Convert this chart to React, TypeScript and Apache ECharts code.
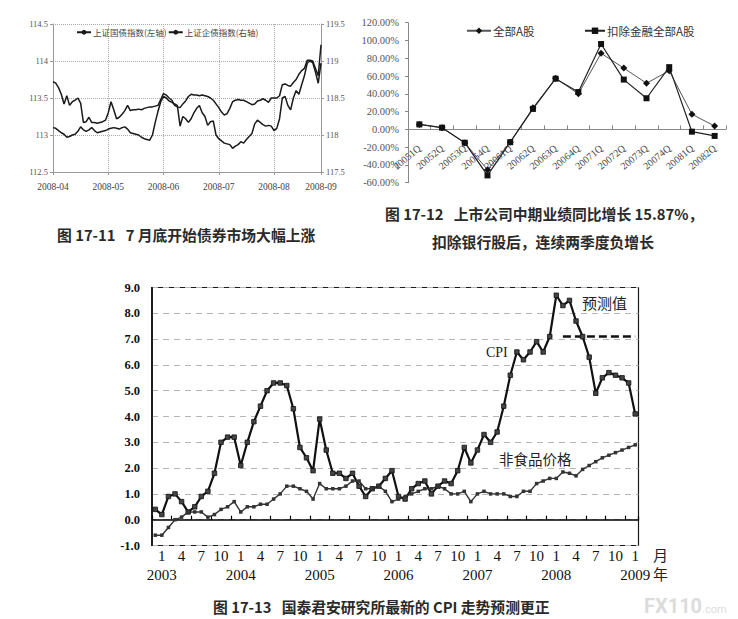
import React, { useEffect, useRef } from 'react';
import * as echarts from 'echarts';

// ---------- Figure 17-11: bond indices ----------
const bondTickIndex = [0, 20, 40, 60, 80, 97];
const bondTickLabels = ['2008-04', '2008-05', '2008-06', '2008-07', '2008-08', '2008-09'];
const treasuryIndex = [
  113.72, 113.70, 113.64, 113.55, 113.42, 113.53, 113.40, 113.45, 113.47, 113.50,
  113.43, 113.17, 113.18, 113.24, 113.17, 113.17, 113.16, 113.17, 113.18, 113.20,
  113.30, 113.45, 113.34, 113.22, 113.24, 113.28, 113.33, 113.40, 113.33, 113.34,
  113.34, 113.35, 113.34, 113.36, 113.37, 113.38, 113.38, 113.39, 113.40, 113.48,
  113.56, 113.54, 113.50, 113.47, 113.40, 113.38, 113.37, 113.42, 113.46, 113.52,
  113.55, 113.54, 113.54, 113.53, 113.54, 113.53, 113.52, 113.50, 113.47, 113.42,
  113.37, 113.31, 113.27, 113.29, 113.36, 113.45, 113.47, 113.48, 113.47, 113.47,
  113.45, 113.43, 113.41, 113.42, 113.46, 113.47, 113.49, 113.47, 113.44, 113.50,
  113.50, 113.50, 113.53, 113.68, 113.69, 113.67, 113.66, 113.71, 113.75, 113.82,
  113.87, 113.90, 114.01, 114.01, 114.00, 113.90, 113.80, 114.22,
];
const corporateIndex = [
  118.10, 118.09, 118.06, 118.03, 118.01, 117.97, 117.98, 118.00, 118.01, 118.05,
  118.11, 118.07, 118.05, 118.07, 118.10, 118.06, 118.03, 118.04, 118.05, 118.06,
  118.08, 118.09, 118.10, 118.09, 118.08, 118.10, 118.11, 118.08, 118.03, 118.02,
  118.01, 118.00, 117.97, 117.95, 117.94, 117.93, 118.00, 118.17, 118.32, 118.45,
  118.52, 118.50, 118.46, 118.44, 118.42, 118.40, 118.12, 118.25, 118.22, 118.17,
  118.22, 118.30, 118.36, 118.40, 118.30, 118.25, 118.13, 118.18, 118.19, 118.00,
  117.95, 117.92, 117.89, 117.88, 117.87, 117.82, 117.85, 117.87, 117.91, 117.89,
  117.94, 117.98, 118.02, 118.15, 118.20, 118.17, 118.14, 118.12, 118.13, 118.12,
  118.06, 118.09, 118.22, 118.50, 118.52, 118.40, 118.34, 118.50, 118.60, 118.55,
  118.68, 118.80, 118.97, 119.00, 118.98, 118.85, 118.70, 118.97,
];
const bondDays = treasuryIndex.map((_, i) => String(i));

// ---------- Figure 17-12: interim earnings growth ----------
const quarters = [
  '20051Q', '20052Q', '20053Q', '20054Q', '20061Q', '20062Q', '20063Q',
  '20064Q', '20071Q', '20072Q', '20073Q', '20074Q', '20081Q', '20082Q',
];
const allAShares = [5.6, 1.9, -15.2, -45.5, -14.4, 24.2, 57.4, 40.0, 85.6, 68.9, 51.9, 65.9, 17.0, 3.7];
const exFinancial = [5.6, 1.9, -15.0, -51.8, -14.4, 23.0, 57.0, 42.0, 96.0, 56.0, 35.0, 70.0, -2.6, -7.4];

// ---------- Figure 17-13: CPI ----------
const cpiYears = [2002, 2003, 2004, 2005, 2006, 2007, 2008, 2009];
const cpi = [
  0.4, 0.2, 0.9, 1.0, 0.7, 0.3, 0.5, 0.9, 1.1, 1.8, 3.0, 3.2,
  3.2, 2.1, 3.0, 3.8, 4.4, 5.0, 5.3, 5.3, 5.2, 4.3, 2.8, 2.4,
  1.9, 3.9, 2.7, 1.8, 1.8, 1.6, 1.8, 1.3, 0.9, 1.2, 1.3, 1.6,
  1.9, 0.9, 0.8, 1.2, 1.4, 1.5, 1.0, 1.3, 1.5, 1.4, 1.9, 2.8,
  2.2, 2.7, 3.3, 3.0, 3.4, 4.4, 5.6, 6.5, 6.2, 6.5, 6.9, 6.5,
  7.1, 8.7, 8.3, 8.5, 7.7, 7.1, 6.3, 4.9, 5.5, 5.7, 5.6, 5.5,
  5.3, 4.1,
];
const nonFood = [
  -0.6, -0.6, -0.3, 0.0, 0.1, 0.3, 0.3, 0.3, 0.1, 0.2, 0.4, 0.5,
  0.7, 0.3, 0.5, 0.5, 0.6, 0.6, 0.8, 1.0, 1.3, 1.3, 1.2, 1.1,
  0.8, 1.4, 1.2, 1.2, 1.2, 1.3, 1.5, 1.5, 1.2, 1.2, 1.3, 1.1,
  0.7, 0.8, 0.9, 1.0, 1.1, 1.2, 1.2, 1.3, 1.2, 1.0, 1.0, 1.1,
  0.7, 1.0, 1.1, 1.0, 1.0, 1.0, 0.9, 0.9, 1.1, 1.1, 1.4, 1.5,
  1.6, 1.6, 1.85, 1.8, 1.7, 1.95, 2.1, 2.25, 2.4, 2.5, 2.6, 2.7,
  2.8, 2.9,
];
const forecastValue = 7.1;
const forecastStart = 62;

// categories: Dec 2002 ... Jan 2009
const cpiCats: string[] = [];
cpiYears.forEach((y) => {
  for (let m = 1; m <= 12; m++) {
    if ((y === 2002 && m < 12) || (y === 2009 && m > 1)) continue;
    cpiCats.push(`${y}-${m}`);
  }
});
const forecast = cpi.map((_, i) => (i >= forecastStart ? forecastValue : null));

const CJK = '"Noto Sans CJK SC", sans-serif';
const SERIF = '"Liberation Serif", "DejaVu Serif", serif';

export default function App() {
  const ref = useRef<HTMLDivElement>(null);
  useEffect(() => {
    if (!ref.current) return;
    const chart = echarts.init(ref.current, undefined, { renderer: 'svg' });
    const captionStyle = (text: string, x: number, y: number) => ({
      type: 'text',
      x,
      y,
      style: {
        text,
        fill: '#2a2a2a',
        fontSize: 14.8,
        fontWeight: 'bold',
        fontFamily: CJK,
        verticalAlign: 'middle',
      },
    });
    const noteStyle = (text: string, x: number, y: number, font: string, size: number) => ({
      type: 'text',
      x,
      y,
      style: { text, fill: '#222', fontSize: size, fontFamily: font, verticalAlign: 'middle' },
    });
    const cpiLabelAxis = (
      show: (i: number) => boolean,
      fmt: (v: string) => string,
      margin: number,
    ) => ({
      type: 'category', gridIndex: 2, data: cpiCats, boundaryGap: true, position: 'bottom',
      axisLine: { show: false, onZero: false },
      axisTick: { show: false },
      axisLabel: {
        interval: (i: number) => show(i),
        formatter: fmt,
        showMaxLabel: true, showMinLabel: true, hideOverlap: false,
        fontSize: 15, color: '#111', margin, fontFamily: SERIF,
      },
      splitLine: { show: false },
    });
    const option: any = {
      animation: false,
      backgroundColor: '#fff',
      textStyle: { fontFamily: SERIF },
      grid: [
        { left: 53, top: 24, width: 268, height: 148 },
        { left: 408, top: 22.7, width: 318, height: 160 },
        { left: 152, top: 287.5, width: 486.5, height: 258, show: true, borderColor: '#1a1a1a', borderWidth: 1.2 },
        // label band for Figure 17-12: its bottom edge sits on the 0% line
        { left: 408, top: 22.7, width: 318, height: 105 },
      ],
      legend: [
        {
          data: ['上证国债指数(左轴)', '上证企债指数(右轴)'],
          left: 76, top: 28, padding: 0, itemWidth: 14, itemHeight: 6, itemGap: 1,
          textStyle: { fontSize: 8.5, color: '#444', fontFamily: CJK, padding: [0, 0, 0, -3] },
        },
        {
          data: ['全部A股'],
          left: 466, top: 25, padding: 0, itemWidth: 24, itemHeight: 8,
          textStyle: { fontSize: 11.5, color: '#333', fontFamily: CJK, padding: [0, 0, 0, -3] },
        },
        {
          data: ['扣除金融全部A股'],
          left: 584, top: 25, padding: 0, itemWidth: 20, itemHeight: 8,
          textStyle: { fontSize: 11.5, color: '#333', fontFamily: CJK, padding: [0, 0, 0, -3] },
        },
      ],
      xAxis: [
        {
          type: 'category', gridIndex: 0, data: bondDays, boundaryGap: false,
          axisLine: { onZero: false, lineStyle: { color: '#999' } },
          axisTick: { interval: (i: number) => bondTickIndex.includes(i), length: 3, lineStyle: { color: '#999' } },
          axisLabel: {
            interval: (i: number) => bondTickIndex.includes(i),
            formatter: (_v: string, i: number) => bondTickLabels[bondTickIndex.indexOf(i)] ?? '',
            fontSize: 9.5, color: '#444', margin: 10, fontFamily: SERIF, showMaxLabel: true,
          },
          splitLine: {
            show: true,
            interval: (i: number) => bondTickIndex.includes(i) && i > 0 && i < 97,
            lineStyle: { type: 'dotted', color: '#aaa' },
          },
        },
        {
          type: 'category', gridIndex: 1, data: quarters, boundaryGap: true,
          axisLine: { onZero: true, lineStyle: { color: '#888' } },
          axisTick: { show: true, inside: true, interval: 0, length: 4, lineStyle: { color: '#888' } },
          axisLabel: { show: false },
        },
        {
          type: 'category', gridIndex: 2, data: cpiCats, boundaryGap: true, position: 'bottom',
          axisLine: { onZero: true, lineStyle: { color: '#000', width: 1.5 } },
          axisTick: { show: true, inside: true, length: 4, interval: (i: number) => i % 3 === 0, lineStyle: { color: '#000', width: 1.2 } },
          axisLabel: { show: false },
          splitLine: { show: false },
        },
        cpiLabelAxis((i) => i >= 1 && (i - 1) % 3 === 0, (v) => v.split('-')[1], 3),
        cpiLabelAxis((i) => i >= 1 && (i - 1) % 12 === 0, (v) => v.split('-')[0], 22),
        {
          type: 'category', gridIndex: 3, data: quarters, boundaryGap: true, position: 'bottom',
          axisLine: { show: false, onZero: false },
          axisTick: { show: false },
          axisLabel: { rotate: 40, interval: 0, fontSize: 10, color: '#444', margin: 19, fontFamily: SERIF },
          splitLine: { show: false },
        },
      ],
      yAxis: [
        {
          type: 'value', gridIndex: 0, min: 112.5, max: 114.5, interval: 0.5, position: 'left',
          axisLine: { show: true, lineStyle: { color: '#999' } },
          axisTick: { show: true, length: 3, lineStyle: { color: '#999' } },
          axisLabel: { fontSize: 8.5, color: '#555', margin: 5, fontFamily: SERIF },
          splitLine: { show: true, lineStyle: { type: 'dotted', color: '#aaa' } },
        },
        {
          type: 'value', gridIndex: 0, min: 117.5, max: 119.5, interval: 0.5, position: 'right',
          axisLine: { show: true, lineStyle: { color: '#999' } },
          axisTick: { show: true, length: 3, lineStyle: { color: '#999' } },
          axisLabel: { fontSize: 8.5, color: '#555', margin: 5, fontFamily: SERIF },
          splitLine: { show: false },
        },
        {
          type: 'value', gridIndex: 1, min: -60, max: 120, interval: 20,
          axisLine: { show: true, lineStyle: { color: '#888' } },
          axisTick: { show: true, length: 3, lineStyle: { color: '#888' } },
          axisLabel: { formatter: (v: number) => v.toFixed(2) + '%', fontSize: 10.5, color: '#555', margin: 9, fontFamily: SERIF },
          splitLine: { show: false },
        },
        {
          type: 'value', gridIndex: 2, min: -1, max: 9, interval: 1,
          axisLine: { show: true, lineStyle: { color: '#000', width: 1.5 } },
          axisTick: { show: false },
          axisLabel: { formatter: (v: number) => v.toFixed(1), fontSize: 12.5, fontWeight: 'bold', color: '#111', margin: 12, fontFamily: SERIF },
          splitLine: { show: true, lineStyle: { type: [6, 5], color: '#b5b5b5' } },
        },
        { type: 'value', gridIndex: 3, min: 0, max: 1, show: false },
      ],
      series: [
        {
          name: '上证国债指数(左轴)', type: 'line', xAxisIndex: 0, yAxisIndex: 0, data: treasuryIndex,
          symbol: 'none', lineStyle: { color: '#1a1a1a', width: 1.5 }, itemStyle: { color: '#1a1a1a' },
        },
        {
          name: '上证企债指数(右轴)', type: 'line', xAxisIndex: 0, yAxisIndex: 1, data: corporateIndex,
          symbol: 'none', lineStyle: { color: '#1a1a1a', width: 1.5 }, itemStyle: { color: '#1a1a1a' },
        },
        {
          name: '全部A股', type: 'line', xAxisIndex: 1, yAxisIndex: 2, data: allAShares,
          symbol: 'diamond', symbolSize: 7, showAllSymbol: true, lineStyle: { color: '#555', width: 1 }, itemStyle: { color: '#111' },
        },
        {
          name: '扣除金融全部A股', type: 'line', xAxisIndex: 1, yAxisIndex: 2, data: exFinancial,
          symbol: 'rect', symbolSize: 6, showAllSymbol: true, lineStyle: { color: '#222', width: 1.2 }, itemStyle: { color: '#111' },
        },
        {
          name: 'CPI', type: 'line', xAxisIndex: 2, yAxisIndex: 3, data: cpi,
          symbol: 'rect', symbolSize: 4.5, showAllSymbol: true, lineStyle: { color: '#111', width: 2.2 },
          itemStyle: { color: '#444', borderColor: '#111', borderWidth: 0.8 },
        },
        {
          name: '非食品价格', type: 'line', xAxisIndex: 2, yAxisIndex: 3, data: nonFood,
          symbol: 'rect', symbolSize: 3.5, showAllSymbol: true, lineStyle: { color: '#333', width: 1.4 }, itemStyle: { color: '#333' },
        },
        {
          name: '预测值', type: 'line', xAxisIndex: 2, yAxisIndex: 3, data: forecast,
          symbol: 'none', connectNulls: false, lineStyle: { color: '#111', width: 2.5, type: [8, 4] },
        },
      ],
      graphic: [
        captionStyle('图 17-11   7 月底开始债券市场大幅上涨', 57, 234),
        captionStyle('图 17-12   上市公司中期业绩同比增长 15.87%，', 385, 213),
        captionStyle('扣除银行股后，连续两季度负增长', 432, 241),
        captionStyle('图 17-13   国泰君安研究所最新的 CPI 走势预测更正', 213, 606),
        noteStyle('预测值', 582, 302, CJK, 15),
        noteStyle('CPI', 486, 352, SERIF, 14),
        noteStyle('非食品价格', 499, 458, CJK, 14.5),
        noteStyle('月', 653, 554, CJK, 15),
        noteStyle('年', 653, 573, CJK, 15),
        {
          type: 'text', x: 644, y: 606,
          style: {
            text: '{a|FX110}{b|.com}', verticalAlign: 'middle',
            rich: {
              a: { fontSize: 20, fontWeight: 'bold', fill: '#dcdcdc', fontFamily: '"Roboto", sans-serif' },
              b: { fontSize: 11, fill: '#dcdcdc', fontFamily: '"Roboto", sans-serif', padding: [6, 0, 0, 0] },
            },
          },
        },
      ],
    };
    chart.setOption(option);
    return () => chart.dispose();
  }, []);
  return (
    <div
      ref={ref}
      style={{ position: 'absolute', left: 0, top: 0, width: 738, height: 619, background: '#fff' }}
    />
  );
}
